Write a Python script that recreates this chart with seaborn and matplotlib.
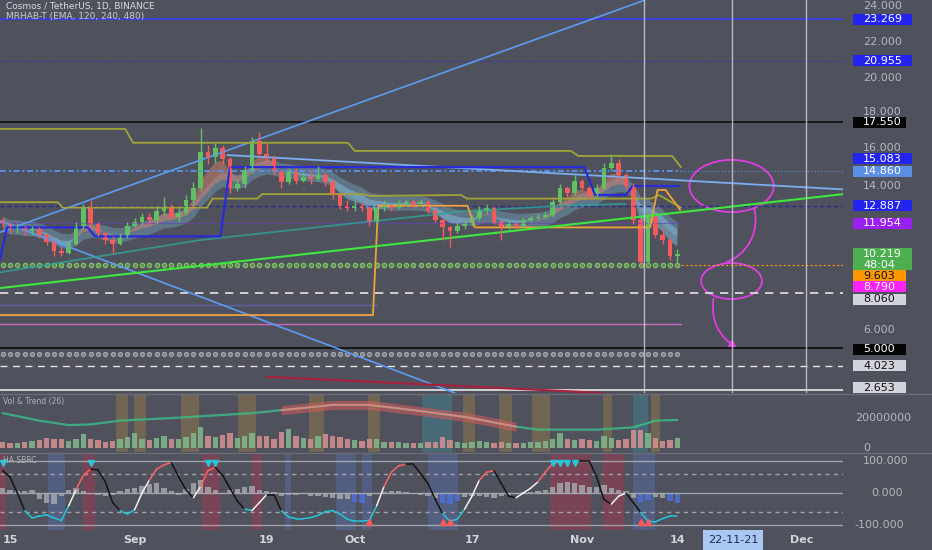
import numpy as np
import pandas as pd
import seaborn as sns
import matplotlib.pyplot as plt
import matplotlib.transforms as mtransforms
from matplotlib.patches import Rectangle, Ellipse, FancyArrowPatch, PathPatch
from matplotlib.path import Path

# ---- data (ATOM/USDT daily, 2022-08-14 .. 2022-11-14) ----
dates = pd.date_range("2022-08-14", "2022-11-14", freq="D")

opens = [12.1, 11.9, 11.6, 11.7, 11.5, 11.6, 11.3, 10.9, 10.4, 10.3,
         10.8, 11.8, 12.8, 11.9, 11.4, 11.0, 10.8, 11.2, 11.8, 12.0,
         12.3, 12.1, 12.6, 12.9, 12.3, 12.5, 13.2, 13.9, 15.9, 15.6,
         16.1, 15.5, 13.9, 14.1, 14.9, 16.5, 15.8, 15.6, 14.8, 14.2,
         14.8, 14.3, 14.5, 14.4, 14.6, 14.2, 13.5, 12.9, 12.8, 12.9,
         12.8, 12.0, 12.8, 12.9, 12.8, 13.0, 13.1, 13.0, 13.1, 12.6,
         12.1, 11.7, 11.5, 11.8, 11.9, 12.2, 12.6, 12.8, 12.0, 11.7,
         11.9, 11.8, 12.1, 12.2, 12.3, 12.4, 13.1, 13.9, 13.6, 14.3,
         13.9, 13.5, 13.9, 15.0, 15.3, 14.6, 14.0, 12.1, 9.8, 12.3,
         11.3, 11.0, 10.1]
closes = [11.9, 11.6, 11.7, 11.5, 11.6, 11.3, 10.9, 10.4, 10.3, 10.8,
          11.8, 12.8, 11.9, 11.4, 11.0, 10.8, 11.2, 11.8, 12.0, 12.3,
          12.1, 12.6, 12.9, 12.3, 12.5, 13.2, 13.9, 15.9, 15.6, 16.1,
          15.5, 13.9, 14.1, 14.9, 16.5, 15.8, 15.6, 14.8, 14.2, 14.8,
          14.3, 14.5, 14.4, 14.6, 14.2, 13.5, 12.9, 12.8, 12.9, 12.8,
          12.0, 12.8, 12.9, 12.8, 13.0, 13.1, 13.0, 13.1, 12.6, 12.1,
          11.7, 11.5, 11.8, 11.9, 12.2, 12.6, 12.8, 12.0, 11.7, 11.9,
          11.8, 12.1, 12.2, 12.3, 12.4, 13.1, 13.9, 13.6, 14.3, 13.9,
          13.5, 13.9, 15.0, 15.3, 14.6, 14.0, 12.1, 9.8, 12.3, 11.3,
          11.0, 10.1, 10.22]
highs = [12.3, 12.0, 11.9, 11.8, 11.8, 11.7, 11.4, 11.0, 10.6, 11.0,
         12.0, 13.0, 13.2, 12.0, 11.5, 11.2, 11.4, 12.0, 12.2, 12.5,
         12.5, 12.9, 13.4, 13.0, 12.8, 13.5, 14.2, 17.2, 16.3, 16.4,
         16.3, 15.6, 14.4, 15.1, 16.7, 17.0, 16.4, 15.7, 14.9, 15.0,
         15.0, 14.8, 14.9, 15.1, 14.8, 14.4, 13.6, 13.2, 13.2, 13.1,
         12.9, 12.9, 13.2, 13.0, 13.2, 13.3, 13.3, 13.3, 13.2, 12.7,
         12.2, 11.8, 12.0, 12.1, 12.4, 12.9, 13.0, 12.9, 12.1, 12.1,
         12.0, 12.3, 12.4, 12.5, 12.6, 13.3, 14.1, 14.0, 14.6, 14.4,
         14.0, 14.1, 15.3, 15.8, 15.5, 14.7, 14.1, 12.2, 12.5, 12.4,
         11.6, 11.1, 10.5]
lows = [11.7, 11.4, 11.4, 11.3, 11.3, 11.1, 10.7, 10.1, 10.1, 10.2,
        10.7, 11.6, 11.7, 11.2, 10.8, 10.3, 10.7, 11.1, 11.7, 11.9,
        11.9, 11.9, 12.4, 12.1, 12.0, 12.4, 13.0, 13.7, 15.2, 15.3,
        15.2, 13.6, 13.7, 13.9, 14.7, 15.6, 15.3, 14.6, 13.9, 14.1,
        14.1, 14.2, 14.1, 14.3, 14.0, 13.3, 12.7, 12.6, 12.6, 12.6,
        11.8, 11.9, 12.6, 12.6, 12.7, 12.9, 12.8, 12.9, 12.5, 12.0,
        11.0, 10.6, 11.4, 11.6, 11.8, 12.1, 12.5, 11.9, 11.0, 11.6,
        11.6, 11.7, 12.0, 12.1, 12.2, 12.3, 13.0, 13.4, 13.5, 13.8,
        13.3, 13.4, 13.8, 14.9, 14.4, 13.8, 11.9, 9.6, 9.7, 11.1,
        10.8, 9.9, 9.7]
volume_m = [3.5, 3.0, 3.2, 3.8, 4.5, 5.0, 6.5, 6.0, 5.5, 4.5,
            6.0, 9.0, 6.0, 5.0, 4.0, 4.5, 5.5, 7.0, 9.5, 6.0,
            5.0, 6.5, 7.5, 6.0, 5.5, 7.0, 9.6, 14.0, 8.0, 7.0,
            8.5, 9.5, 6.5, 7.5, 10.0, 8.0, 7.5, 6.0, 10.5, 12.5,
            8.0, 6.5, 5.5, 7.5, 9.0, 8.0, 7.0, 6.0, 5.0, 4.5,
            5.5, 6.0, 4.0, 3.5, 3.5, 3.0, 3.0, 3.2, 3.5, 4.0,
            7.0, 5.0, 4.0, 3.2, 3.5, 4.2, 3.6, 3.2, 4.0, 3.4,
            3.0, 3.2, 3.5, 3.8, 4.2, 5.5, 9.5, 5.5, 4.8, 5.5,
            5.0, 4.5, 7.5, 6.5, 5.0, 6.0, 11.5, 12.0, 10.0, 6.5,
            4.5, 5.0, 6.5]
# volume trend line (day index, millions)
vol_trend_idx = [0, 5, 9, 12, 16, 24, 34, 38, 45, 50, 56, 63, 69, 70, 73, 81, 86, 89, 92]
vol_trend_val = [23, 18, 15, 15.5, 18, 20, 23, 25, 28.5, 28.5, 25, 20.5, 15, 14, 12, 12, 13.5, 18, 18.5]

# HA SBRC oscillator and histogram
osc = [70, 50, 0, -55, -78, -72, -68, -78, -86, -40,
       10, 55, 75, 72, 35, -30, -55, -66, -52, 0,
       40, 75, 88, 95, 50, 10, -15, 20, 70, 80,
       55, 15, -25, -50, -55, -30, -5, -5, -55, -75,
       -80, -80, -77, -70, -58, -55, -65, -82, -88, -88,
       -86, -40, 20, 65, 85, 90, 90, 60, 30, -20,
       -65, -88, -82, -50, -10, 40, 65, 70, 30, -10,
       -15, 0, 15, 35, 65, 92, 98, 100, 100, 100,
       100, 50, -20, -35, -10, 0, -30, -60, -88, -90,
       -80, -72, -72]
hist = [15, 10, 6, 5, 8, -18, -30, -35, -10, 8,
        15, 5, -4, -6, -8, -5, 6, 12, 15, 22,
        28, 32, 15, 5, -5, 12, 30, 40, 18, 10,
        -4, 8, 12, 18, 22, 10, 6, 4, -8, -6,
        -5, -4, -8, -10, -12, -15, -18, -20, -28, -32,
        -8, -4, 4, 6, 5, 3, -3, -5, -8, -15,
        -30, -35, -25, -12, -8, -10, -12, -15, -8, -5,
        -3, 2, 3, 5, 8, 20, 30, 35, 30, 25,
        20, 18, 25, 15, 10, 5, -15, -28, -22, -12,
        -15, -25, -32]
hist_blue_idx = [48, 49, 60, 61, 62, 87, 88, 91, 92]
sell_marks = [0, 12, 28, 29, 75, 76, 77, 78]
buy_marks = [50, 60, 61, 87, 88]

# price levels on the right scale: (value, text, box colour, text colour)
levels = [(23.269, "23.269", '#2424f0', 'white'),
          (20.955, "20.955", '#2424f0', 'white'),
          (17.550, "17.550", '#050505', 'white'),
          (15.083, "15.083", '#2424f0', 'white'),
          (14.860, "14.860", '#5b8fe6', 'white'),
          (12.887, "12.887", '#2424f0', 'white'),
          (11.954, "11.954", '#9b1ff0', 'white'),
          (9.603, "9.603", '#ff9800', '#111111'),
          (8.790, "8.790", '#ff22ff', 'white'),
          (8.060, "8.060", '#d1d4dc', '#111111'),
          (5.000, "5.000", '#050505', 'white'),
          (4.023, "4.023", '#d1d4dc', '#111111'),
          (2.653, "2.653", '#d1d4dc', '#111111')]
# where the scale shows each tag (pushed apart to avoid overlap)
level_shown = [23.269, 20.955, 17.55, 15.5, 14.83, 12.89, 11.94, 9.0, 8.39, 7.72, 4.94, 4.0, 2.78]
level_wide = [True, True, False, True, True, True, True, False, False, False, False, False, False]
price_ticks = [24, 22, 20, 18, 16, 14, 6]
tick_shown = [24, 22, 20, 18.13, 16.12, 14, 6]
last_price, countdown = "10.219", "48:04"

# indicator step lines (day index, price)
blue_step = [(-0.4, 9.9), (0.6, 11.7), (11.6, 11.7), (12.6, 11.2), (29.7, 11.2), (31.0, 15.05),
             (79.3, 15.05), (80.8, 13.5), (85.0, 13.5), (85.9, 14.0), (92.3, 14.0)]
orange_step = [(-0.4, 6.83), (50.5, 6.83), (51.2, 12.9), (63.4, 12.9), (64.4, 11.7), (88.3, 11.7),
               (89.3, 13.78), (90.4, 13.78), (92.4, 12.67)]
olive_top = [(-0.4, 17.17), (16.7, 17.17), (17.8, 16.4), (47.1, 16.4), (48.0, 15.95), (77.5, 15.95),
             (78.5, 15.67), (91.3, 15.67), (92.5, 15.05)]
olive_low = [(-0.4, 13.1), (7.5, 13.1), (8.2, 12.8), (27.9, 12.8), (28.6, 13.3), (34.7, 13.3),
             (35.4, 13.55), (49.2, 13.55), (50.0, 13.45), (62.5, 13.5), (63.3, 13.3), (88.5, 13.3),
             (89.5, 13.5), (92.5, 12.8)]
teal_ema = [(-0.4, 9.2), (27, 11.0), (63, 12.6), (76, 12.9), (85, 13.0)]
# drawn trend lines (day index, price)
trend_up = [(-0.36, 11.43), (87.6, 24.33)]
trend_down = [(-0.36, 12.06), (61.7, 2.5)]
trend_top = [(30.6, 15.72), (116, 13.78)]
trend_green = [(-0.36, 8.33), (116, 13.61)]
trend_red = [(36, 3.4), (82, 2.5)]
vlines_idx = [87.5, 99.4, 109.5]

# hand drawn marks
ellipses = [(99.4, 14.0, 11.5, 2.9), (99.4, 8.72, 8.3, 2.0)]
squiggle = [(102.4, 12.9), (103.4, 11.5), (101.6, 10.2), (98.6, 9.75)]
arrow = [(97.0, 7.9), (100.4, 4.95)]

# background bands (day index ranges)
vol_orange = [(15.5, 17.1), (17.9, 19.6), (24.3, 26.8), (32.1, 34.6), (41.8, 43.8), (49.8, 51.5),
              (62.8, 64.4), (67.7, 69.4), (72.2, 74.7), (81.9, 83.1), (88.4, 89.7)]
vol_teal = [(57.2, 61.3), (86.0, 88.0)]
ha_red = [(-0.4, 0.5), (11.0, 12.6), (27.2, 29.7), (34.0, 35.3), (74.7, 80.3), (81.9, 84.8)]
ha_blue = [(6.2, 8.5), (38.5, 39.3), (45.5, 48.2), (49.0, 50.3), (58.0, 62.1), (86.0, 88.9)]

date_ticks = [(1, "15"), (18, "Sep"), (36, "19"), (48, "Oct"), (64, "17"), (79, "Nov"), (92, "14"), (109, "Dec")]
cursor_date = (99.6, "22-11-21")

# ---- figure ----
BG = '#4f525c'
sns.set_theme(style="dark", rc={"axes.facecolor": BG, "figure.facecolor": BG})
plt.rcParams['font.family'] = ['DejaVu Sans']

W, H = 932, 550
fig = plt.figure(figsize=(W / 100, H / 100), dpi=100)
ax = fig.add_axes([0, 1 - 393 / H, 843 / W, 393 / H])
axv = fig.add_axes([0, 1 - 452 / H, 843 / W, 57 / H])
axh = fig.add_axes([0, 1 - 530 / H, 843 / W, 77 / H])
xlim = (-0.364, 114.6)
for a in (ax, axv, axh):
    a.set_facecolor(BG)
    a.set_xlim(*xlim)
    a.set_xticks([])
    a.set_yticks([])
    for s in a.spines.values():
        s.set_visible(False)
ax.set_ylim(2.5, 24.333)
axv.set_ylim(-2.9, 35.1)
axh.set_ylim(-115.6, 125)

idx = np.arange(len(dates))
df = pd.DataFrame({"idx": idx, "open": opens, "high": highs, "low": lows, "close": closes, "vol": volume_m})
df["up"] = df["close"] >= df["open"]

# ---- main panel ----
full = [xlim[0], xlim[1]]
ax.plot(full, [23.269] * 2, color='#3b3bf0', lw=1.3)
ax.plot(full, [20.955] * 2, color='#3030d8', lw=1.0, ls=(0, (1, 2)))
ax.plot(full, [17.55] * 2, color='#151515', lw=1.3)
ax.plot(full, [12.887] * 2, color='#2a2a90', lw=1.0, ls=(0, (3, 2)))
ax.plot([-0.4, 92.5], [11.954] * 2, color='#6a3fc0', lw=0.8, alpha=0.6)
ax.plot(full, [8.06] * 2, color='#e4e4e4', lw=1.2, ls=(0, (5, 4)))
ax.plot([-0.4, 51], [7.39] * 2, color='#6868c8', lw=1.0, alpha=0.7)
ax.plot([-0.4, 92.5], [6.33] * 2, color='#c86ac8', lw=1.0)
ax.plot(full, [5.0] * 2, color='#111111', lw=1.3)
ax.plot(full, [4.023] * 2, color='#e4e4e4', lw=1.0, ls=(0, (5, 4)))
ax.plot(full, [2.653] * 2, color='#dcdcdc', lw=1.3)
ax.plot([-0.4, 92.5], [14.86] * 2, color='#5b8fe6', lw=1.4, ls=(0, (3, 1.5, 1, 1.5)))
ax.plot([92.5, xlim[1]], [14.86] * 2, color='#5b8fe6', lw=0.8, ls=(0, (1, 2)))
ax.plot([92.5, xlim[1]], [9.603] * 2, color='#ff9800', lw=0.8, ls=(0, (2, 2)))
ax.plot(df["idx"], [9.6] * len(df), ls='none', marker='o', ms=3.2, mfc='#5e8f50', mec='#86c46a', mew=0.8)
ax.plot(df["idx"], [4.67] * len(df), ls='none', marker='o', ms=3.0, mfc='#7b7e86', mec='#a5a8ae', mew=0.8)

for seg in (trend_up, trend_down):
    ax.plot(*zip(*seg), color='#5b9cf0', lw=1.2)
ax.plot(*zip(*trend_top), color='#7aaef0', lw=1.3)
ax.plot(*zip(*trend_red), color='#a8203c', lw=1.5)

# EMA ribbons
ema_fast = df["close"].ewm(span=4).mean()
ema_slow = df["close"].ewm(span=10).mean()
ax.fill_between(df["idx"], ema_slow - 0.4, ema_slow + 0.4, color='#7fb7dc', alpha=0.35, lw=0)
ax.fill_between(df["idx"], ema_fast, ema_slow, where=ema_fast >= ema_slow, color='#e8846c', alpha=0.45, lw=0, interpolate=True)
ax.fill_between(df["idx"], ema_fast, ema_slow, where=ema_fast < ema_slow, color='#86c0e0', alpha=0.5, lw=0, interpolate=True)
sns.lineplot(x=[p[0] for p in teal_ema], y=[p[1] for p in teal_ema], ax=ax, color='#2fa39a', lw=1.3, alpha=0.8)

ax.plot(*zip(*olive_top), color='#a3a336', lw=1.3)
ax.plot(*zip(*olive_low), color='#a3a336', lw=1.3)
ax.plot(*zip(*orange_step), color='#f0a23a', lw=1.3)
ax.plot(*zip(*blue_step), color='#2a2ad8', lw=1.6)
ax.plot(*zip(*trend_green), color='#3ee63e', lw=1.5)

# candles
colors = np.where(df["up"], '#62c062', '#f25c5c')
ax.vlines(df["idx"], df["low"], df["high"], color=colors, lw=1.0)
body_lo = np.minimum(df["open"], df["close"])
body_h = np.maximum(np.abs(df["close"] - df["open"]), 0.04)
ax.bar(df["idx"], body_h, bottom=body_lo, width=0.66, color=colors, lw=0)

for v in vlines_idx:
    ax.axvline(v, color='#c9ccd6', lw=1.0, alpha=0.85)

# hand drawn marks
MAG = '#e03ee0'
for cx, cy, w, h in ellipses:
    ax.add_patch(Ellipse((cx, cy), w, h, fill=False, ec=MAG, lw=1.3))
ax.add_patch(PathPatch(Path(squiggle, [Path.MOVETO, Path.CURVE4, Path.CURVE4, Path.CURVE4]),
                       fill=False, ec=MAG, lw=1.3))
ax.add_patch(FancyArrowPatch(arrow[0], arrow[1], connectionstyle="arc3,rad=0.35",
                             arrowstyle='-|>,head_length=4,head_width=2.5', color=MAG, lw=1.3))

# right price scale
tp = mtransforms.blended_transform_factory(ax.transAxes, ax.transData)
for t, shown in zip(price_ticks, tick_shown):
    ax.text(1.0237, shown, f"{t:.3f}", transform=tp, color='#b4b7bf', fontsize=8, va='center', clip_on=False)
px_unit = (24.333 - 2.5) / 393
x0 = 853 / 843
for (val, txt, bg, fg), shown, wide in zip(levels, level_shown, level_wide):
    x1 = (912 if wide else 906) / 843
    ax.add_patch(Rectangle((x0, shown - 5.5 * px_unit), x1 - x0, 11 * px_unit, transform=tp,
                           color=bg, clip_on=False, lw=0))
    ax.text(1.0237, shown, txt, transform=tp, color=fg, fontsize=8, va='center', clip_on=False)
ax.add_patch(Rectangle((x0, 9.94 - 11 * px_unit), 912 / 843 - x0, 22 * px_unit, transform=tp,
                       color='#4caf50', clip_on=False, lw=0))
ax.text(1.0237, 9.94 + 5.5 * px_unit, last_price, transform=tp, color='white', fontsize=8, va='center', clip_on=False)
ax.text(1.0237, 9.94 - 5.5 * px_unit, countdown, transform=tp, color='white', fontsize=8, va='center', clip_on=False)

fig.text(6 / W, 1 - 6 / H, "Cosmos / TetherUS, 1D, BINANCE", color='#d8dae0', fontsize=6.5, va='center')
fig.text(6 / W, 1 - 16 / H, "MRHAB-T (EMA, 120, 240, 480)", color='#c8cad0', fontsize=6.5, va='center')

# ---- volume panel ----
for a0, a1 in vol_orange:
    axv.axvspan(a0, a1, color='#c89a3c', alpha=0.28, lw=0)
for a0, a1 in vol_teal:
    axv.axvspan(a0, a1, color='#3aa0b4', alpha=0.3, lw=0)
vcol = np.where(df["up"], '#7fb58a', '#cf8f8f')
axv.bar(df["idx"], df["vol"], width=0.7, color=vcol, alpha=0.9, lw=0)
tr = pd.DataFrame({"idx": vol_trend_idx, "val": vol_trend_val})
red_part = tr[(tr["idx"] >= 38) & (tr["idx"] <= 70)]
sns.lineplot(data=tr, x="idx", y="val", ax=axv, color='#3bbf8a', lw=1.6, alpha=0.8)
axv.fill_between(red_part["idx"], red_part["val"] - 3.0, red_part["val"] + 3.0, color='#d85a5a', alpha=0.55, lw=0)
axv.plot(red_part["idx"], red_part["val"], color='#e88080', lw=1.2)
axv.set_xlabel("")
axv.set_ylabel("")
tv = mtransforms.blended_transform_factory(axv.transAxes, axv.transData)
axv.text(1.0145, 20, "20000000", transform=tv, color='#b4b7bf', fontsize=8, va='center', clip_on=False)
axv.text(1.0237, 0, "0", transform=tv, color='#b4b7bf', fontsize=8, va='center', clip_on=False)
axv.text(0.004, 0.88, "Vol & Trend (26)", transform=axv.transAxes, color='#b0b3bb', fontsize=5.5, va='center')

# ---- HA SBRC panel ----
for a0, a1 in ha_red:
    axh.axvspan(a0, a1, color='#b8304e', alpha=0.4, lw=0)
for a0, a1 in ha_blue:
    axh.axvspan(a0, a1, color='#5a78c8', alpha=0.35, lw=0)
for lvl, ls in [(100, '-'), (60, (0, (3, 3))), (0, '-'), (-60, (0, (3, 3))), (-100, '-')]:
    axh.axhline(lvl, color='#a9acb4', lw=1.0, ls=ls, alpha=0.9)
hcol = ['#4e6fd6' if i in hist_blue_idx else '#a3a6ad' for i in idx]
axh.bar(idx, hist, width=0.75, color=hcol, alpha=0.85, lw=0)
for i in range(len(osc) - 1):
    a, b = osc[i], osc[i + 1]
    if (a + b) / 2 < -50:
        c = '#26c6da'
    elif b > a:
        c = '#ff6464' if (a + b) / 2 > 30 else '#f2f2f2'
    else:
        c = '#141414'
    axh.plot([i, i + 1], [a, b], color=c, lw=1.1)
axh.plot(sell_marks, [93] * len(sell_marks), ls='none', marker='v', ms=4, color='#26c6da')
axh.plot(buy_marks, [-92] * len(buy_marks), ls='none', marker='^', ms=4, color='#ff5a5a')
th = mtransforms.blended_transform_factory(axh.transAxes, axh.transData)
for v, s, xo in [(100, "100.000", 1.0237), (0, "0.000", 1.0340), (-100, "-100.000", 1.0130)]:
    axh.text(xo, v, s, transform=th, color='#b4b7bf', fontsize=8, va='center', clip_on=False)
axh.text(0.004, 0.9, "HA SBRC", transform=axh.transAxes, color='#b0b3bb', fontsize=5.5, va='center')

# date axis
td = mtransforms.blended_transform_factory(axh.transData, axh.transAxes)
for d, s in date_ticks:
    axh.text(d, -0.13, s, transform=td, color='#d1d4dc', fontsize=8, fontweight='bold',
             ha='center', va='center', clip_on=False)
axh.text(cursor_date[0], -0.13, cursor_date[1], transform=td, color='#1b2a4a', fontsize=8,
         ha='center', va='center', clip_on=False,
         bbox=dict(boxstyle='square,pad=0.45', fc='#a9c7f2', ec='none'))

# panel separators
for y in (394, 452.5):
    fig.add_artist(plt.Line2D([0, 1], [1 - y / H] * 2, color='#6b6e78', lw=1.0))

fig.savefig("out.png", dpi=100, facecolor=BG)
